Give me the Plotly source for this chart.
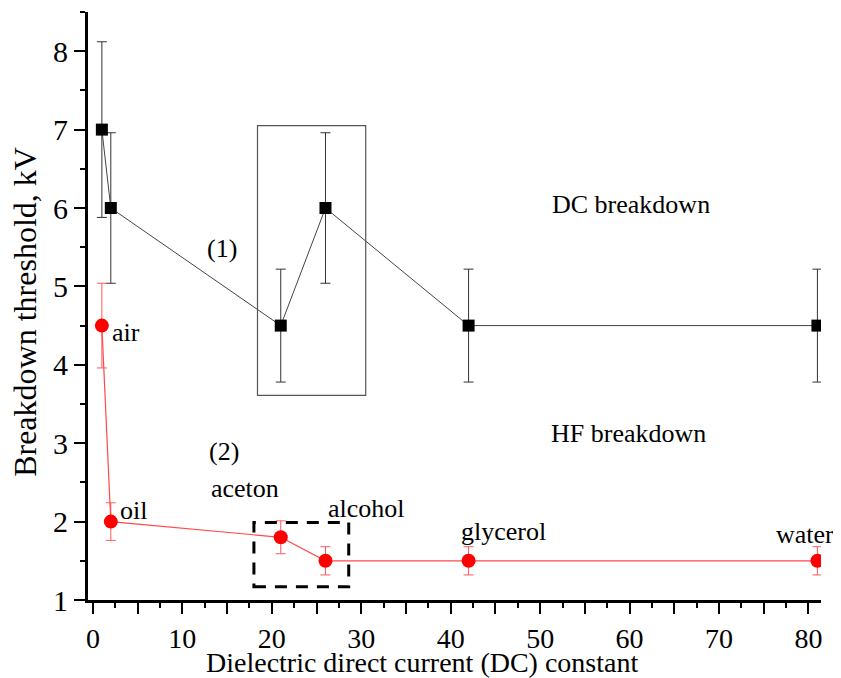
import plotly.graph_objects as go

# ---- data ----
categories = ["air", "oil", "aceton", "alcohol", "glycerol", "water"]
dielectric_constant = [1, 2, 21, 26, 42, 81]
dc_threshold = [7.0, 6.0, 4.5, 6.0, 4.5, 4.5]
dc_error = [1.12, 0.96, 0.72, 0.96, 0.72, 0.72]
hf_threshold = [4.5, 2.0, 1.8, 1.5, 1.5, 1.5]
hf_error = [0.54, 0.24, 0.21, 0.18, 0.18, 0.18]

x_tick_vals = [0, 5, 10, 15, 20, 25, 30, 35, 40, 45, 50, 55, 60, 65, 70, 75, 80]
x_tick_text = ["0", "", "10", "", "20", "", "30", "", "40", "", "50", "", "60", "", "70", "", "80"]
y_tick_vals = [1, 2, 3, 4, 5, 6, 7, 8]

FONT = "Times New Roman, Liberation Serif, DejaVu Serif, serif"

fig = go.Figure()

fig.add_trace(go.Scatter(
    x=dielectric_constant, y=dc_threshold, mode="lines+markers", name="DC",
    line=dict(color="#444444", width=1),
    marker=dict(symbol="square", size=12, color="black"),
    error_y=dict(type="data", array=dc_error, visible=True,
                 color="#333333", thickness=1, width=5),
    showlegend=False, cliponaxis=True,
))

fig.add_trace(go.Scatter(
    x=dielectric_constant, y=hf_threshold, mode="lines+markers", name="HF",
    line=dict(color="#ff4a4a", width=1.2),
    marker=dict(symbol="circle", size=14, color="#ff0000"),
    error_y=dict(type="data", array=hf_error, visible=True,
                 color="#ff5a5a", thickness=1, width=5),
    showlegend=False, cliponaxis=True,
))

# highlight boxes
fig.add_shape(type="rect", xref="x", yref="y", x0=18.4, x1=30.5, y0=3.61, y1=7.05,
              line=dict(color="#555555", width=1.2))
fig.add_shape(type="rect", xref="x", yref="y", x0=18.0, x1=28.6, y0=1.17, y1=1.99,
              line=dict(color="black", width=3, dash="12px,9px"))

# point labels
label_pos = {
    "air": (3.7, 4.41),
    "oil": (4.56, 2.14),
    "aceton": (16.95, 2.42),
    "alcohol": (30.55, 2.17),
    "glycerol": (45.9, 1.87),
    "water": (79.6, 1.83),
}
for name in categories:
    lx, ly = label_pos[name]
    fig.add_annotation(x=lx, y=ly, text=name, showarrow=False, xref="x", yref="y",
                       xanchor="center", yanchor="middle", borderpad=0,
                       font=dict(family=FONT, size=26, color="black"))

extra_text = [
    ("(1)", 14.45, 5.48),
    ("(2)", 14.66, 2.89),
    ("DC breakdown", 60.15, 6.04),
    ("HF breakdown", 59.9, 3.12),
]
for t, tx, ty in extra_text:
    fig.add_annotation(x=tx, y=ty, text=t, showarrow=False, xref="x", yref="y",
                       xanchor="center", yanchor="middle",
                       font=dict(family=FONT, size=26, color="black"))

# axis titles
fig.add_annotation(x=0.456, y=-0.106, xref="paper", yref="paper",
                   text="Dielectric direct current (DC) constant", showarrow=False,
                   xanchor="center", yanchor="middle",
                   font=dict(family=FONT, size=28, color="black"))
fig.add_annotation(x=-0.086, y=0.49, xref="paper", yref="paper",
                   text="Breakdown threshold, kV", showarrow=False, textangle=-90,
                   xanchor="center", yanchor="middle",
                   font=dict(family=FONT, size=32, color="black"))

fig.update_layout(
    width=833, height=670,
    margin=dict(l=80, r=20, t=4, b=78, autoexpand=False),
    paper_bgcolor="white", plot_bgcolor="white",
    font=dict(family=FONT, color="black"),
    xaxis=dict(
        range=[-0.55, 81.4], showgrid=False, zeroline=False, automargin=False,
        showline=True, linecolor="black", linewidth=3,
        tickmode="array", tickvals=x_tick_vals, ticktext=x_tick_text,
        ticks="outside", ticklen=11, tickwidth=2, tickcolor="black",
        tickfont=dict(family=FONT, size=28, color="black"),
        minor=dict(tickmode="linear", tick0=0, dtick=2.5, ticks="outside",
                   ticklen=5, tickwidth=2, tickcolor="black", showgrid=False),
    ),
    yaxis=dict(
        range=[1, 8.5], showgrid=False, zeroline=False, automargin=False,
        showline=True, linecolor="black", linewidth=3,
        tickmode="array", tickvals=y_tick_vals,
        ticks="outside", ticklen=11, tickwidth=2, tickcolor="black",
        tickfont=dict(family=FONT, size=30, color="black"),
        minor=dict(tickmode="linear", tick0=0, dtick=0.5, ticks="outside",
                   ticklen=5, tickwidth=2, tickcolor="black", showgrid=False),
    ),
)

fig.write_html("out.html")
